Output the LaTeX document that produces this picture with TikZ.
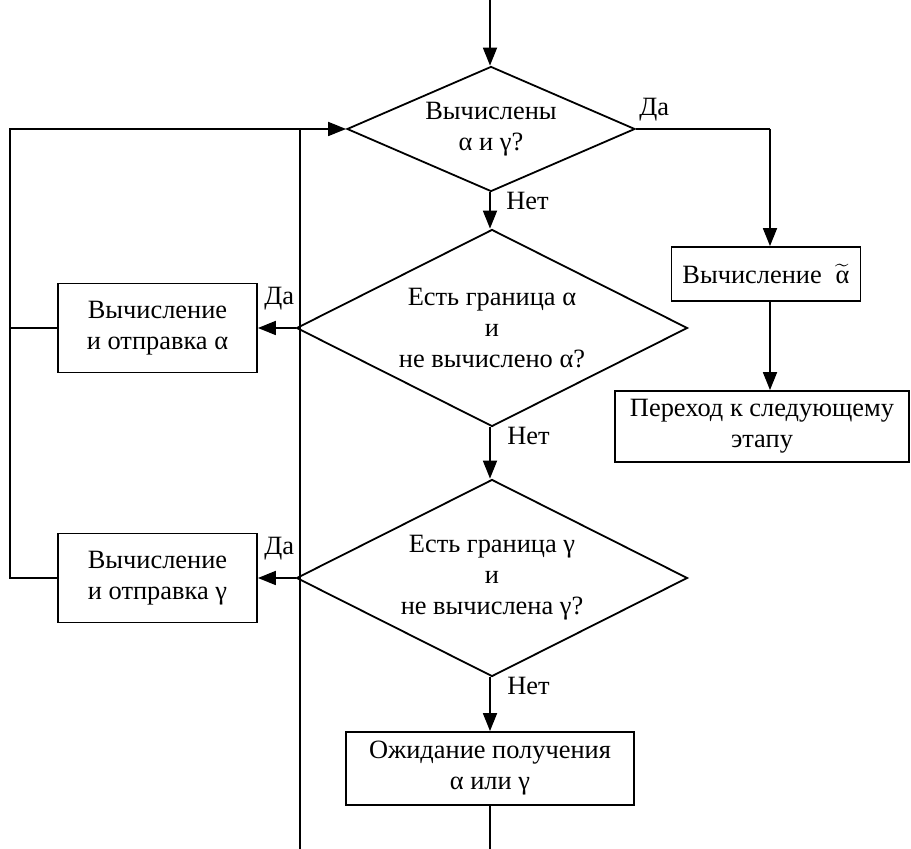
\documentclass[tikz,border=0pt]{standalone}
\usepackage{amsmath}
\usepackage{fontspec}
\setmainfont{Liberation Serif}
\usetikzlibrary{arrows.meta, shapes.geometric, positioning}

\begin{document}
\begin{tikzpicture}[x=0.5pt, y=-0.5pt,
        every node/.style={font=\fontsize{13.2pt}{15.5pt}\selectfont},
        block/.style={rectangle, draw, line width=0.9pt, align=center, inner sep=2pt},
        decision/.style={diamond, draw, line width=0.9pt, align=center, inner sep=0pt, aspect=2},
        link/.style={line width=0.9pt},
        arr/.style={line width=0.9pt, -{Triangle[length=9pt, width=7pt]}},
        lbl/.style={inner sep=1.5pt}]
        \useasboundingbox (0,0) rectangle (911,849);

        \node[decision, minimum width=144pt, minimum height=62.5pt] at (491, 129) (d1) {Вычислены\\α и γ?};
        \node[decision, minimum width=195.5pt, minimum height=98.5pt] at (492, 328) (d2) {Есть граница α\\и\\не вычислено α?};
        \node[decision, minimum width=195.5pt, minimum height=98.5pt] at (492, 578) (d3) {Есть граница γ\\и\\не вычислена γ?};

        \node[block, minimum width=99.5pt, minimum height=44.5pt] at (157.5, 328) (calcA) {Вычисление\\и отправка α};
        \node[block, minimum width=99.5pt, minimum height=44.5pt] at (157.5, 578) (calcG) {Вычисление\\и отправка γ};
        \node[block, minimum width=94.5pt, minimum height=27pt] at (766, 274) (tilde) {Вычисление \;$\widetilde{\text{α}}$};
        \node[block, minimum width=147pt, minimum height=35.5pt] at (762, 426.5) (next) {Переход к следующему\\этапу};
        \node[block, minimum width=144pt, minimum height=36.5pt] at (490, 768.5) (wait) {Ожидание получения\\α или γ};

        \coordinate (top) at (490, 0);
        \coordinate (bot) at (490, 849);
        \coordinate (join) at (300, 129);
        \coordinate (back) at (300, 849);
        \coordinate (loopA) at (10, 328);
        \coordinate (loopG) at (10, 578);
        \coordinate (loopT) at (10, 129);
        \coordinate (right) at (770, 129);

        \draw [arr] (top) -- (d1.north -| top);
        \draw [link] (d1.east) -- (right);
        \draw [arr] (right) -- (right |- tilde.north);
        \draw [arr] (right |- tilde.south) -- (right |- next.north);
        \draw [arr] (d1.south -| top) -- (d2.north -| top);
        \draw [arr] (d2.south -| top) -- (d3.north -| top);
        \draw [arr] (d3.south -| top) -- (wait.north);
        \draw [link] (wait.south) -- (bot);

        \draw [arr] (d2.west) -- (calcA.east);
        \draw [arr] (d3.west) -- (calcG.east);
        \draw [link] (calcA.west) -- (loopA);
        \draw [arr] (calcG.west) -- (loopG) -- (loopT) -- (d1.west);
        \draw [link] (join) -- (back);

        \node[lbl, anchor=south west] at ([yshift=2pt]d1.east) (yes1) {Да};
        \node[lbl, anchor=north west] at ([xshift=6pt, yshift=2pt]d1.south) (no1) {Нет};
        \node[lbl, anchor=north west] at ([xshift=6pt, yshift=2pt]d2.south) (no2) {Нет};
        \node[lbl, anchor=north west] at ([xshift=6pt, yshift=2pt]d3.south) (no3) {Нет};
        \node[lbl, anchor=south east] at ([xshift=1pt, yshift=7pt]d2.west) (yes2) {Да};
        \node[lbl, anchor=south east] at ([xshift=1pt, yshift=7pt]d3.west) (yes3) {Да};
    \end{tikzpicture}
\end{document}
